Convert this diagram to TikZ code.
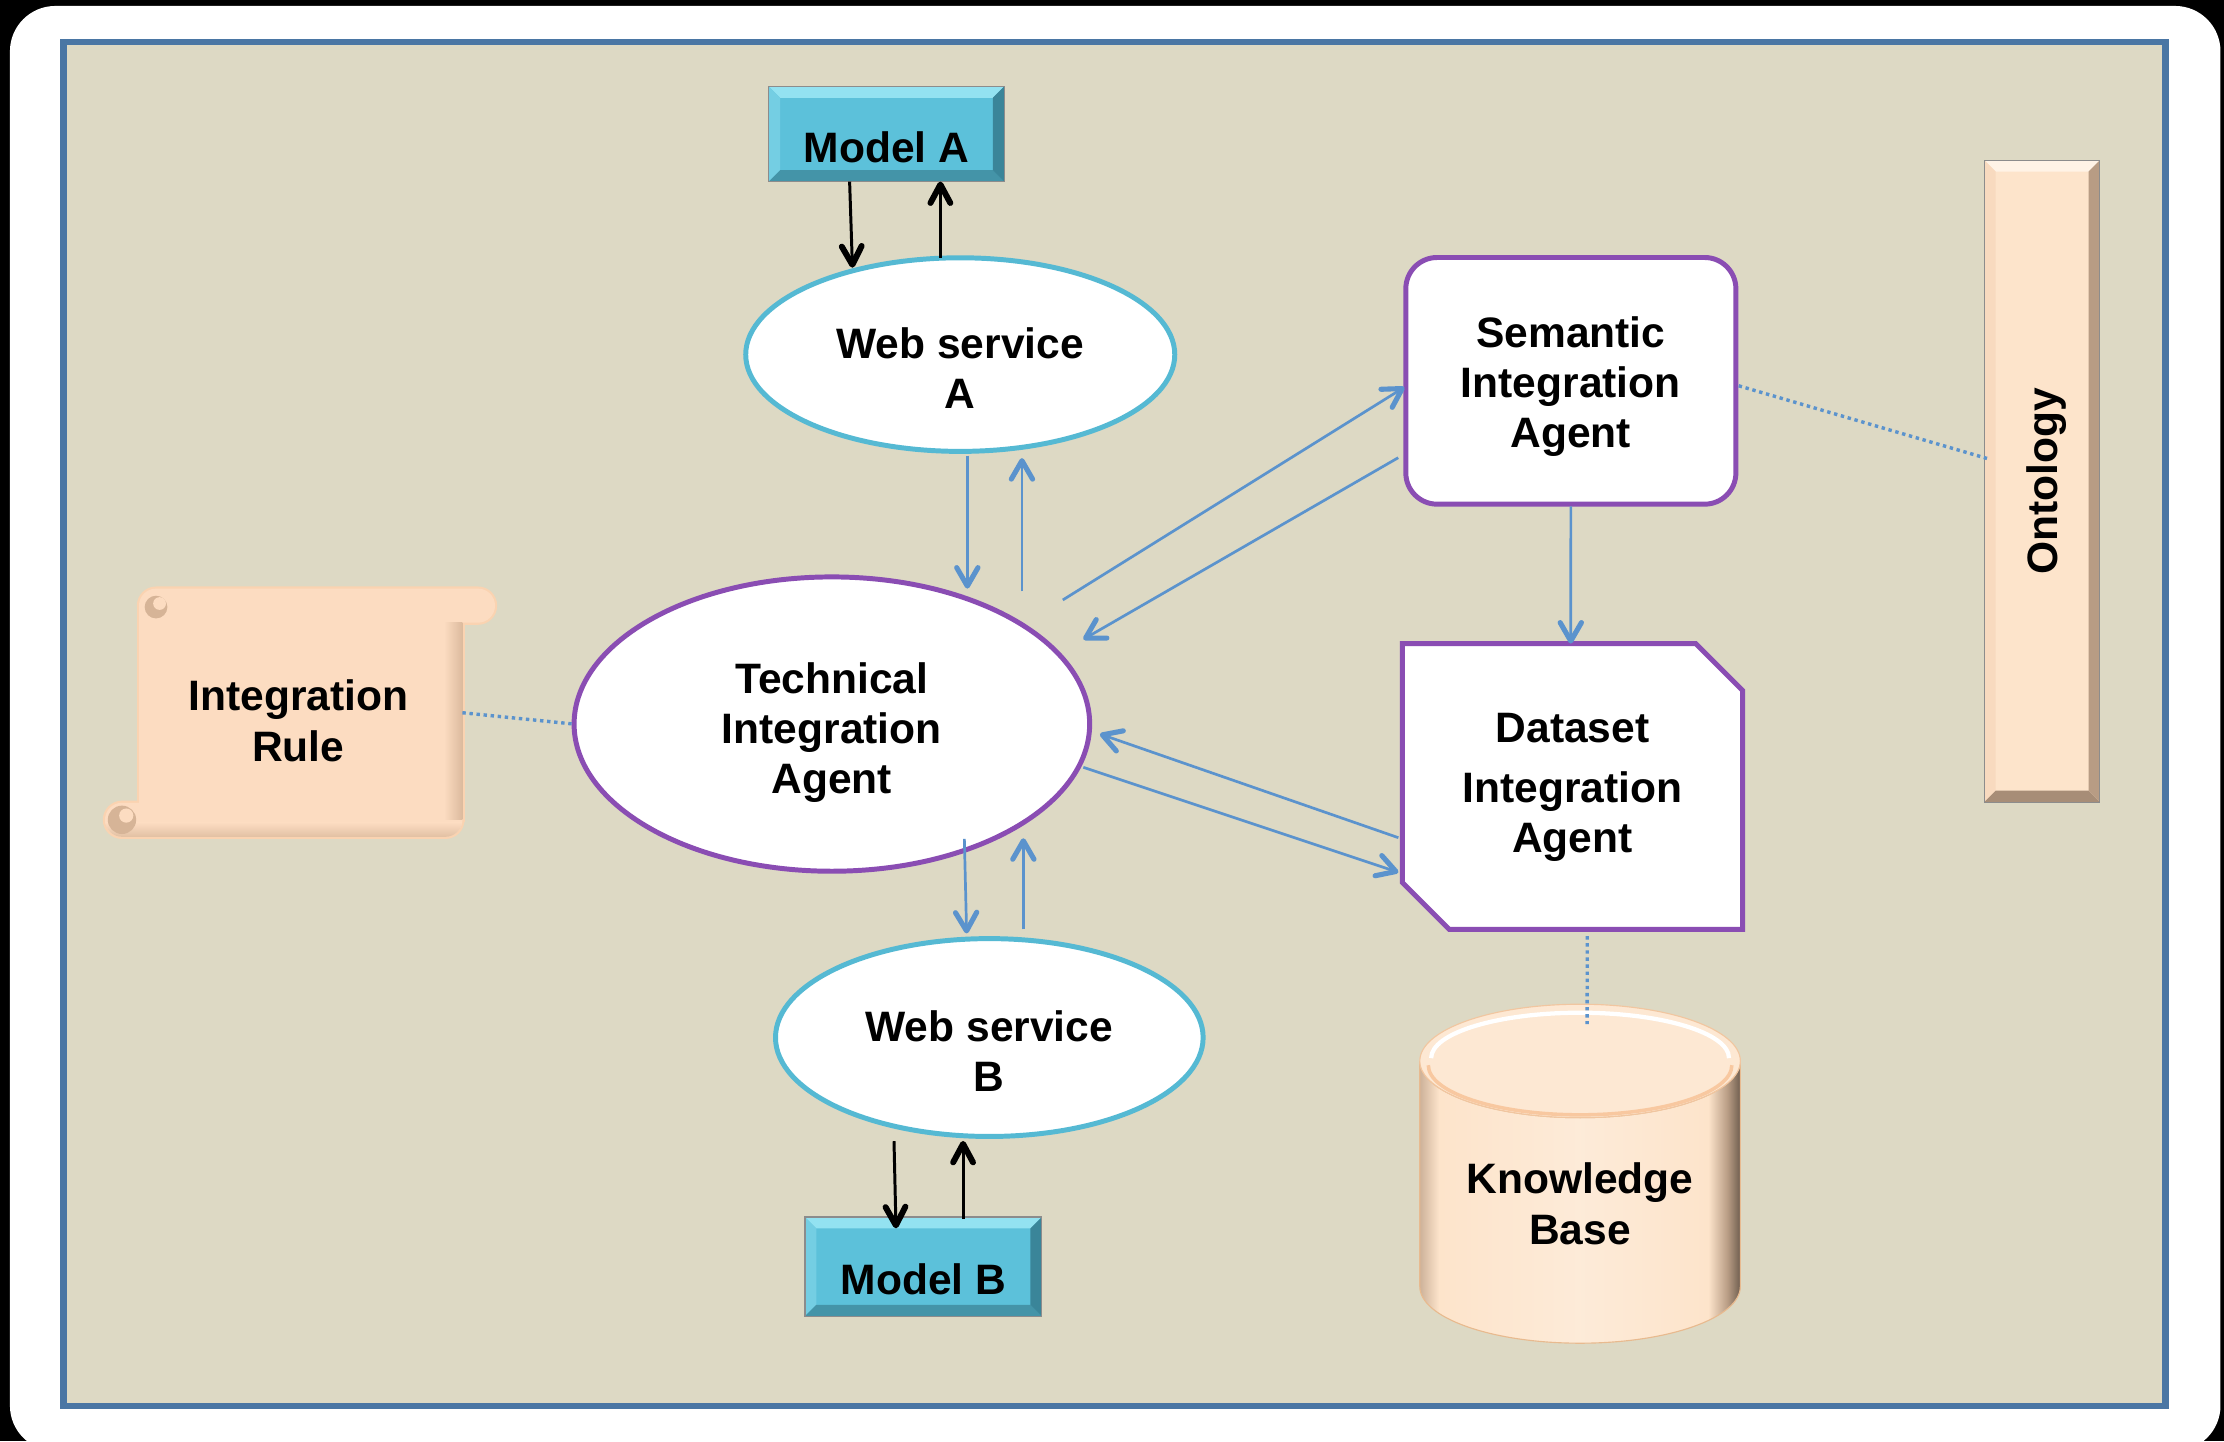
\documentclass[tikz,border=0pt]{standalone}
\usepackage{fontspec}
\setmainfont{Liberation Sans}
\usetikzlibrary{arrows.meta,shapes.geometric}

\definecolor{frameblue}{HTML}{4A76A4}
\definecolor{paper}{HTML}{DDD9C4}
\definecolor{agentpurple}{HTML}{8A4DB3}
\definecolor{servicecyan}{HTML}{55B9D3}
\definecolor{flowblue}{HTML}{5B93CD}
\definecolor{modelfill}{HTML}{5CC1DA}
\definecolor{modeltop}{HTML}{93E2F1}
\definecolor{modelleft}{HTML}{74CEE3}
\definecolor{modelright}{HTML}{3A8599}
\definecolor{modelbottom}{HTML}{4494A8}
\definecolor{peach}{HTML}{FDE4CB}
\definecolor{peachrim}{HTML}{FAD3B1}
\definecolor{peachtop}{HTML}{FFF3E6}
\definecolor{peachleft}{HTML}{F8DABF}
\definecolor{peachright}{HTML}{B89C84}
\definecolor{peachbottom}{HTML}{A78D77}
\definecolor{scrollpaper}{HTML}{FCDCC1}
\definecolor{curl}{HTML}{D6B497}
\definecolor{rimorange}{HTML}{F8C8A0}

% body of the knowledge-base cylinder: dark rims, light middle
\pgfdeclarehorizontalshading{kbbody}{100bp}{%
  color(0bp)=(peachright!70!peach); color(25bp)=(peachright!70!peach);
  color(28bp)=(peach); color(50bp)=(peach!75!white); color(70bp)=(peach);
  color(73bp)=(peachright); color(75bp)=(peachright!60!black);
  color(100bp)=(peachright!60!black)}

\def\bevelw{8pt}

\begin{document}
\begin{tikzpicture}[x=1pt,y=-1pt,
  txt/.style={font=\bfseries\fontsize{30}{35.3}\selectfont, align=center, text=black},
  agentline/.style={draw=agentpurple, line width=3.5pt, fill=white, inner sep=0pt, outer sep=0pt},
  service/.style={ellipse, draw=servicecyan, line width=3.5pt, fill=white, inner sep=0pt, outer sep=0pt},
  flow/.style={draw=flowblue, line width=1.9pt,
    -{Straight Barb[length=13pt,width=15pt,line width=3.6pt,round]}},
  call/.style={draw=black, line width=2.1pt,
    -{Straight Barb[length=13pt,width=14pt,line width=4.2pt,round]}},
  link/.style={draw=flowblue, line width=2.4pt, dash pattern=on 2.4pt off 2.6pt},
  bevelbox/.style n args={5}{rectangle, fill=#1, draw=black!45, line width=0.8pt,
    inner sep=0pt, outer sep=0pt,
    path picture={
      \path (path picture bounding box.north west) coordinate (bbA)
            (path picture bounding box.north east) coordinate (bbB)
            (path picture bounding box.south east) coordinate (bbC)
            (path picture bounding box.south west) coordinate (bbD);
      \fill[#2] (bbA) -- (bbB) -- ([xshift=-\bevelw,yshift=-\bevelw]bbB)
                -- ([xshift=\bevelw,yshift=-\bevelw]bbA) -- cycle;
      \fill[#3] (bbA) -- ([xshift=\bevelw,yshift=-\bevelw]bbA)
                -- ([xshift=\bevelw,yshift=\bevelw]bbD) -- (bbD) -- cycle;
      \fill[#4] (bbD) -- ([xshift=\bevelw,yshift=\bevelw]bbD)
                -- ([xshift=-\bevelw,yshift=\bevelw]bbC) -- (bbC) -- cycle;
      \fill[#5] (bbC) -- ([xshift=-\bevelw,yshift=\bevelw]bbC)
                -- ([xshift=-\bevelw,yshift=-\bevelw]bbB) -- (bbB) -- cycle;
    }}
]
\useasboundingbox (0,0) rectangle (1568,1016);

% page, card and framed panel
\fill[black] (0,0) rectangle (1568,1016);
\fill[white, rounded corners=32pt] (7,4.2) rectangle (1565.5,1023);
\filldraw[fill=paper, draw=frameblue, line width=4.4pt] (44.8,29.6) rectangle (1526.8,991.2);

% ---- scroll holding the integration rule ----
\path[fill=peachrim, draw=peachrim, line width=3pt, rounded corners=12pt]
  (98,415) rectangle (349,439) (74,566) rectangle (326,590);
\path[fill=peachrim, draw=peachrim, line width=3pt] (98,427) rectangle (326,578);
\fill[scrollpaper, rounded corners=12pt] (98,415) rectangle (349,439);
\fill[scrollpaper, rounded corners=12pt] (74,566) rectangle (326,590);
\fill[scrollpaper] (98,427) rectangle (326,578);
\shade[left color=scrollpaper, right color=curl!85!scrollpaper] (313,439) rectangle (326,578);
\begin{scope}
  \clip[rounded corners=12pt] (74,566) rectangle (326,590);
  \shade[top color=scrollpaper, bottom color=curl!70!scrollpaper] (74,580) rectangle (326,590);
\end{scope}
\fill[curl] (110,428) circle (8pt);
\fill[scrollpaper] (112.5,425.5) circle (4.5pt);
\fill[curl] (86,578) circle (10pt);
\fill[scrollpaper] (89,575) circle (5pt);
\node[rectangle, inner sep=0pt, outer sep=0pt, minimum width=228pt, minimum height=151pt,
  label={[txt, xshift=-1.7pt, yshift=-5.7pt]center:{Integration\\Rule}}] (ir) at (212,502.5) {};

% ---- knowledge base cylinder ----
\shadedraw[shading=kbbody, draw=peachrim!70!brown, line width=0.8pt]
  (1001,748) -- (1001,907) arc[start angle=180, end angle=360, x radius=113pt, y radius=40pt]
  -- (1227,748) arc[start angle=0, end angle=-180, x radius=113pt, y radius=40pt] -- cycle;
\filldraw[fill=peach!85!white, draw=peachrim!85!brown, line width=0.8pt]
  (1114,748) ellipse [x radius=113pt, y radius=40pt];
\draw[white, line width=3pt] (1009,746) arc[start angle=180, end angle=0, x radius=105pt, y radius=32pt];
\draw[rimorange, line width=2.5pt] (1221,751) arc[start angle=0, end angle=-180, x radius=107pt, y radius=35pt];
\node[rectangle, inner sep=0pt, outer sep=0pt, minimum width=226pt, minimum height=238.4pt,
  label={[txt, yshift=-20.9pt]center:{Knowledge\\Base}}] (kb) at (1114,827.8) {};

% ---- dataset agent: rectangle with two snipped corners ----
\filldraw[fill=white, draw=agentpurple, line width=3.5pt, line join=miter]
  (988.75,453.75) -- (1195.5,453.75) -- (1228.55,486.8) -- (1228.55,655.25)
  -- (1021.8,655.25) -- (988.75,622.2) -- cycle;
\node[rectangle, inner sep=0pt, outer sep=0pt, minimum width=239.8pt, minimum height=201.5pt,
  label={[txt, yshift=-0.6pt]center:{Dataset\\[6.4pt]Integration\\Agent}}] (dia) at (1108.65,554.5) {};

% ---- models, services and agents ----
\node[bevelbox={modelfill}{modeltop}{modelleft}{modelbottom}{modelright},
  minimum width=166pt, minimum height=67pt,
  label={[txt, yshift=-9pt]center:Model A}] (modelA) at (625,94.5) {};
\node[bevelbox={modelfill}{modeltop}{modelleft}{modelbottom}{modelright},
  minimum width=167pt, minimum height=70pt,
  label={[txt, yshift=-9pt]center:Model B}] (modelB) at (651,893) {};
\node[bevelbox={peach}{peachtop}{peachleft}{peachbottom}{peachright},
  minimum width=81.5pt, minimum height=452.5pt,
  label={[txt, xshift=2.9pt, rotate=90]center:Ontology}] (ont) at (1439.75,339.25) {};

\node[service, minimum width=302.5pt, minimum height=136.5pt,
  label={[txt, yshift=-9.5pt]center:{Web service\\A}}] (wsA) at (677,250) {};
\node[service, minimum width=301.5pt, minimum height=139.5pt,
  label={[txt, yshift=-9.5pt]center:{Web service\\B}}] (wsB) at (697.5,731.5) {};
\node[ellipse, agentline, minimum width=363.5pt, minimum height=207.5pt,
  label={[txt, yshift=-6.1pt]center:{Technical\\Integration\\Agent}}] (tia) at (586.5,510.5) {};
\node[rectangle, rounded corners=22pt, agentline, minimum width=232.7pt, minimum height=173.9pt,
  label={[txt, yshift=-4.2pt]center:{Semantic\\Integration\\Agent}}] (sia) at (1107.5,268.5) {};

% ---- requests between models and web services ----
\draw[call] ([xshift=-26pt]modelA.south) -- ([xshift=-76pt,yshift=-7pt]wsA.north);
\draw[call] ([xshift=-14pt]wsA.north) -- ([xshift=38pt]modelA.south);
\draw[call] ([xshift=-67.2pt,yshift=-3.35pt]wsB.south) -- ([xshift=-19.3pt,yshift=-8pt]modelB.north);
\draw[call] ([xshift=28pt,yshift=-1.5pt]modelB.north) -- ([xshift=-18.5pt,yshift=-3.15pt]wsB.south);

% ---- message flow between agents and services ----
\draw[flow] ([xshift=5pt,yshift=-3pt]wsA.south) -- ([xshift=95.5pt,yshift=-8.25pt]tia.north);
\draw[flow] ([xshift=134pt,yshift=-10.25pt]tia.north) -- ([xshift=43.5pt,yshift=-4.75pt]wsA.south);
\draw[flow] ([xshift=162.8pt,yshift=-16.25pt]tia.north) -- ([xshift=-1pt,yshift=-4.5pt]sia.west);
\draw[flow] ([xshift=-5.35pt,yshift=-54.2pt]sia.west) -- ([xshift=177.3pt,yshift=-44pt]tia.north);
\draw[flow] ([yshift=-1.5pt]sia.south) -- ([xshift=-1.2pt]dia.north);
\draw[flow] ([xshift=-2.85pt,yshift=-36.1pt]dia.west) -- ([xshift=7.25pt,yshift=-7pt]tia.east);
\draw[flow] ([xshift=-4.45pt,yshift=-30.5pt]tia.east) -- ([xshift=-2.85pt,yshift=-60.5pt]dia.west);
\draw[flow] ([xshift=93.4pt,yshift=22.75pt]tia.south) -- ([xshift=-16pt,yshift=3.65pt]wsB.north);
\draw[flow] ([xshift=24pt,yshift=6.45pt]wsB.north) -- ([xshift=135pt,yshift=23.25pt]tia.south);

% ---- dotted associations ----
\draw[link] (ir.east) -- (tia.west);
\draw[link] ([xshift=2pt,yshift=-3.5pt]sia.east) -- ([xshift=2pt,yshift=16pt]ont.west);
\draw[link] ([xshift=10.4pt,yshift=-4.75pt]dia.south) -- ([xshift=5pt,yshift=-13.4pt]kb.north);
\end{tikzpicture}
\end{document}
